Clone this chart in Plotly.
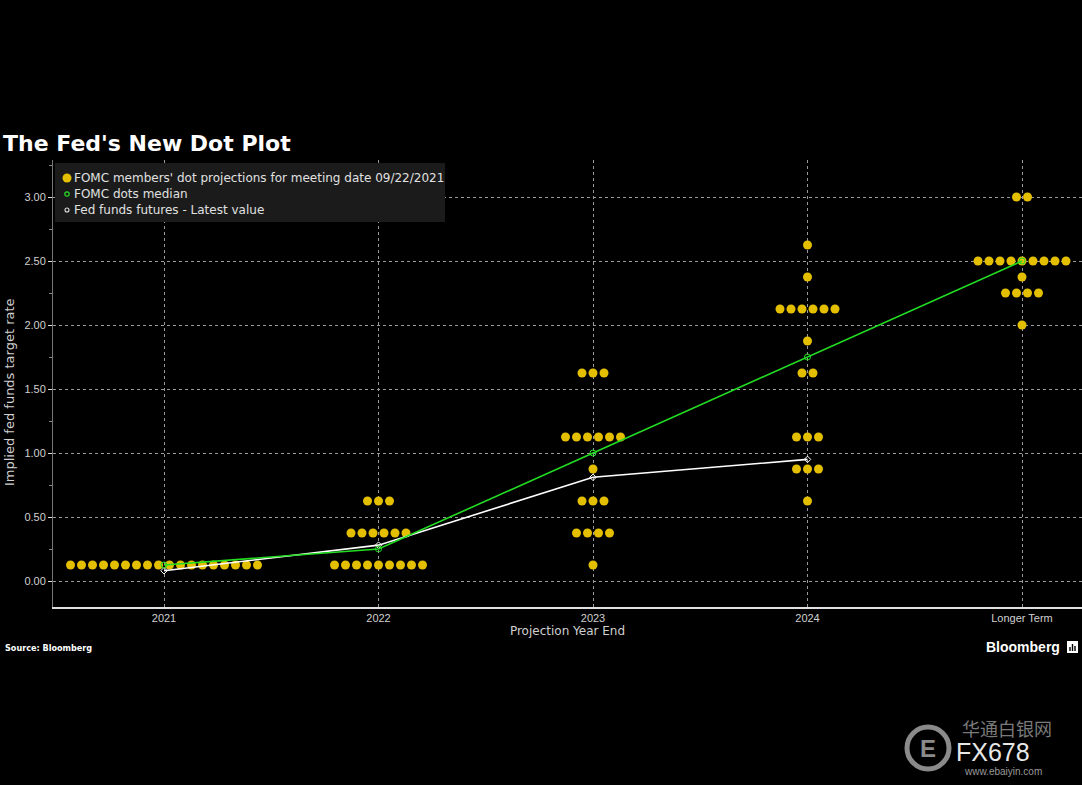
import numpy as np
import plotly.graph_objects as go

# ---------------- data ----------------
categories = ["2021", "2022", "2023", "2024", "Longer Term"]

# dot plot: (category index, rate, number of participants)
dot_cat = [0, 1, 1, 1, 2, 2, 2, 2, 2, 2, 3, 3, 3, 3, 3, 3, 3, 3, 4, 4, 4, 4, 4]
dot_rate = [0.125, 0.125, 0.375, 0.625, 0.125, 0.375, 0.625, 0.875, 1.125, 1.625,
            0.625, 0.875, 1.125, 1.625, 1.875, 2.125, 2.375, 2.625,
            2.0, 2.25, 2.375, 2.5, 3.0]
dot_count = [18, 9, 6, 3, 1, 4, 3, 1, 6, 3,
             1, 3, 3, 2, 1, 6, 1, 1,
             1, 4, 1, 9, 2]

median = [0.125, 0.25, 1.0, 1.75, 2.5]
futures = [0.08, 0.28, 0.81, 0.95]

legend_labels = ["FOMC members' dot projections for meeting date 09/22/2021",
                 "FOMC dots median",
                 "Fed funds futures - Latest value"]

# ---------------- geometry helpers ----------------
W, H = 1082, 785
L, R, T, B = 53, 0, 160, 178
PW, PH = W - L - R, H - T - B


def px(x, y):
    return (x - L) / PW, (H - B - y) / PH


DOT_COLOR = "#e3bf00"
GREEN = "#22dd22"
TXT = "#d0d0d0"
FONT = "Liberation Sans, Arial, sans-serif"
FONT2 = "DejaVu Sans, Verdana, sans-serif"

spacing = 11 / 214.5  # horizontal gap between dots in category units
xs, ys = [], []
for c, r, n in zip(dot_cat, dot_rate, dot_count):
    offs = (np.arange(n) - (n - 1) / 2) * spacing
    xs.extend(c + offs)
    ys.extend([r] * n)

fig = go.Figure()
fig.add_trace(go.Scatter(x=xs, y=ys, mode="markers",
                         marker=dict(color=DOT_COLOR, size=9, line=dict(width=0)),
                         name=legend_labels[0], hoverinfo="y"))
fig.add_trace(go.Scatter(x=list(range(len(futures))), y=futures, mode="lines+markers",
                         line=dict(color="white", width=1.6),
                         marker=dict(symbol="diamond-open", size=5, color="white"),
                         name=legend_labels[2]))
fig.add_trace(go.Scatter(x=list(range(len(median))), y=median, mode="lines+markers",
                         line=dict(color=GREEN, width=1.6),
                         marker=dict(symbol="circle-open", size=6, color=GREEN),
                         name=legend_labels[1]))

fig.update_layout(
    width=W, height=H,
    margin=dict(l=L, r=R, t=T, b=B),
    paper_bgcolor="black", plot_bgcolor="black",
    showlegend=False,
    font=dict(family=FONT, color=TXT, size=11),
)

fig.update_xaxes(
    range=[(L - 164) / 214.5, (W - 164) / 214.5],
    tickmode="array", tickvals=list(range(len(categories))), ticktext=categories,
    showgrid=True, gridcolor="#9a9a9a", griddash="dot", gridwidth=1,
    showline=True, linecolor="#e0e0e0", linewidth=1.5,
    ticks="", zeroline=False,
    tickfont=dict(size=11, color=TXT),
    title=dict(text="Projection Year End", font=dict(size=12, color=TXT, family=FONT2), standoff=4),
)
fig.update_yaxes(
    range=[-(607 - 581) / 128, 3 + (197 - 160) / 128],
    tickmode="linear", tick0=0, dtick=0.5, tickformat=".2f",
    ticks="outside", ticklen=4, tickcolor="#e0e0e0", tickwidth=1,
    minor=dict(tickmode="linear", tick0=0, dtick=0.25, ticks="outside", ticklen=3,
               tickcolor="#888888", showgrid=False),
    showgrid=True, gridcolor="#9a9a9a", griddash="dot", gridwidth=1,
    showline=True, linecolor="#777777", linewidth=1,
    zeroline=False,
    tickfont=dict(size=11, color=TXT),
)

shapes = []
annotations = []

# y-axis title
tx, ty = px(9, 392)
annotations.append(dict(xref="paper", yref="paper", x=tx, y=ty,
                        text="Implied fed funds target rate", textangle=-90,
                        showarrow=False, xanchor="center", yanchor="middle",
                        font=dict(size=13, color=TXT, family=FONT2)))

# legend box
x0, y0 = px(55, 163)
x1, y1 = px(445, 222)
shapes.append(dict(type="rect", xref="paper", yref="paper", x0=x0, x1=x1, y0=y1, y1=y0,
                   fillcolor="#1b1b1b", line=dict(width=0), layer="above"))
sym_y = [178, 194, 210]
for i, (lab, yy) in enumerate(zip(legend_labels, sym_y)):
    ax, ay = px(67, yy)
    if i == 0:
        shapes.append(dict(type="circle", xref="paper", yref="paper", xsizemode="pixel",
                           ysizemode="pixel", xanchor=ax, yanchor=ay, x0=-4.5, x1=4.5,
                           y0=-4.5, y1=4.5, fillcolor=DOT_COLOR, line=dict(width=0),
                           layer="above"))
    elif i == 1:
        shapes.append(dict(type="circle", xref="paper", yref="paper", xsizemode="pixel",
                           ysizemode="pixel", xanchor=ax, yanchor=ay, x0=-2.2, x1=2.2,
                           y0=-2.2, y1=2.2, line=dict(color=GREEN, width=1.2),
                           layer="above"))
    else:
        shapes.append(dict(type="circle", xref="paper", yref="paper", xsizemode="pixel",
                           ysizemode="pixel", xanchor=ax, yanchor=ay, x0=-2, x1=2,
                           y0=-2, y1=2, line=dict(color="#dddddd", width=1.1),
                           layer="above"))
    tx, ty = px(72, yy)
    annotations.append(dict(xref="paper", yref="paper", x=tx, y=ty, text=lab,
                            showarrow=False, xanchor="left", yanchor="middle",
                            font=dict(size=12, color="#e0e0e0", family=FONT2)))

# title
tx, ty = px(1, 144)
annotations.append(dict(xref="paper", yref="paper", x=tx, y=ty,
                        text="<b>The Fed's New Dot Plot</b>", showarrow=False,
                        xanchor="left", yanchor="middle",
                        font=dict(size=22, color="white", family="DejaVu Sans, sans-serif")))
# source
tx, ty = px(3, 648)
annotations.append(dict(xref="paper", yref="paper", x=tx, y=ty,
                        text="<b>Source: Bloomberg</b>", showarrow=False,
                        xanchor="left", yanchor="middle",
                        font=dict(size=9, color="white", family="DejaVu Sans Condensed, DejaVu Sans, sans-serif")))
# Bloomberg mark
tx, ty = px(1062, 647)
annotations.append(dict(xref="paper", yref="paper", x=tx, y=ty,
                        text="<b>Bloomberg</b>", showarrow=False,
                        xanchor="right", yanchor="middle",
                        font=dict(size=14, color="white", family="Liberation Sans Narrow, Liberation Sans, sans-serif")))
bx0, by0 = px(1067, 641)
bx1, by1 = px(1078, 653)
shapes.append(dict(type="rect", xref="paper", yref="paper", x0=bx0, x1=bx1, y0=by1, y1=by0,
                   fillcolor="white", line=dict(width=0)))
for bxp, btop in [(1070, 647), (1072.5, 644), (1075, 646)]:
    a0, a1 = px(bxp - 0.7, btop)
    b0, b1 = px(bxp + 0.7, 651)
    shapes.append(dict(type="rect", xref="paper", yref="paper", x0=a0, x1=b0, y0=b1, y1=a1,
                       fillcolor="black", line=dict(width=0)))

# watermark
cx, cy = px(928, 748)
shapes.append(dict(type="circle", xref="paper", yref="paper", xsizemode="pixel",
                   ysizemode="pixel", xanchor=cx, yanchor=cy, x0=-21, x1=21, y0=-21, y1=21,
                   line=dict(color="#8a8a8a", width=5)))
annotations.append(dict(xref="paper", yref="paper", x=cx, y=cy, text="<b>E</b>",
                        showarrow=False, xanchor="center", yanchor="middle",
                        font=dict(size=24, color="#8a8a8a", family=FONT)))
wx, wy = px(960, 728)
annotations.append(dict(xref="paper", yref="paper", x=wx, y=wy, text="华通白银网",
                        showarrow=False, xanchor="left", yanchor="middle",
                        font=dict(size=18, color="#7a7a7a", family="Noto Sans CJK SC")))
wx, wy = px(954, 752)
annotations.append(dict(xref="paper", yref="paper", x=wx, y=wy, text="FX678",
                        showarrow=False, xanchor="left", yanchor="middle",
                        font=dict(size=25, color="#e8e8e8", family=FONT)))
wx, wy = px(962, 771)
annotations.append(dict(xref="paper", yref="paper", x=wx, y=wy, text="www.ebaiyin.com",
                        showarrow=False, xanchor="left", yanchor="middle",
                        font=dict(size=10, color="#9a9a9a", family=FONT)))

fig.update_layout(shapes=shapes, annotations=annotations)
fig.write_html("out.html", config={"displayModeBar": False},
               post_script="document.body.style.margin='0';document.body.style.background='black';")
